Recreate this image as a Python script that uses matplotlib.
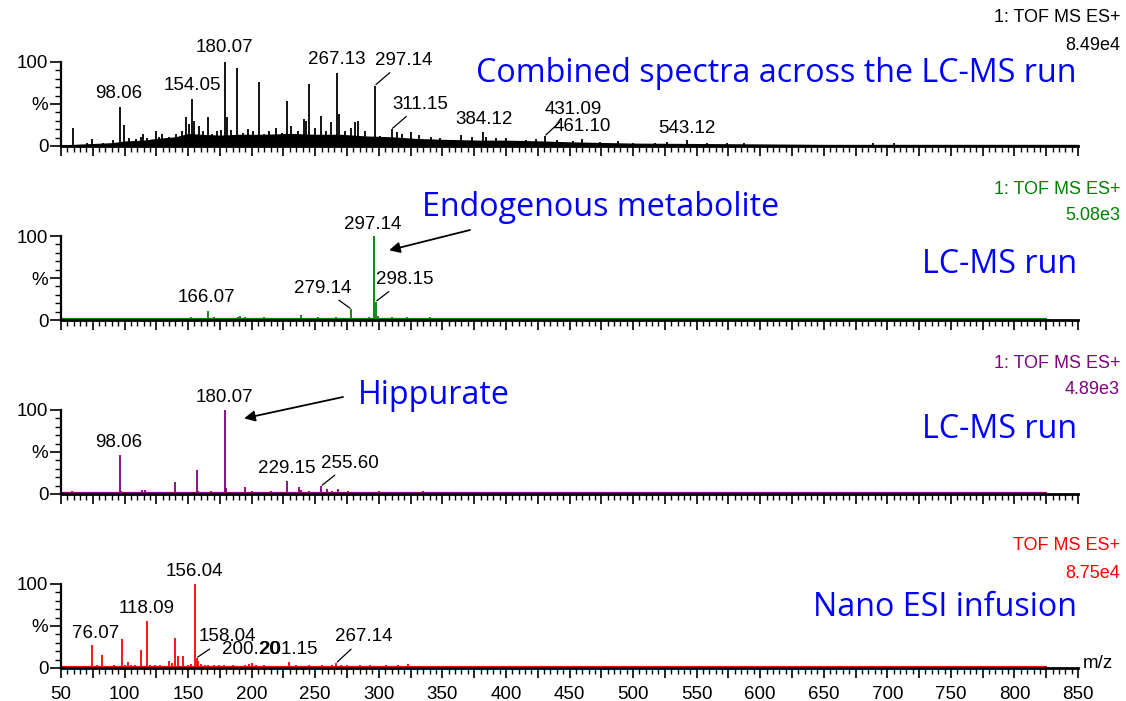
import matplotlib
matplotlib.use("Agg")
import matplotlib.pyplot as plt
from matplotlib.ticker import MultipleLocator, FuncFormatter

# ---------------- data ----------------
# panel 1: combined spectra, black
comb_mz = [59.8, 70.5, 74.7, 83, 91, 96.5, 99.2, 103.6, 108.9, 112.8, 114.6, 118, 124.6, 127,
           129.8, 135, 140.4, 145, 148.3, 150.9, 153, 154.8, 158.8, 162, 165.3, 169, 173, 175.8,
           179, 180.3, 183.8, 188.7, 193.5, 197, 200.9, 206, 210, 214, 219.3, 224, 227.8, 231,
           236.4, 240.8, 242.4, 245, 249.5, 254.8, 258.7, 262.2, 267.4, 268.8, 273.3, 278.5,
           281.2, 283.8, 289, 296.9, 300.9, 310, 314, 318, 325.6, 332, 341, 348, 365, 373, 382,
           384.7, 392.5, 400.4, 416, 424, 430.6, 439.8, 452.9, 459.5, 474, 488.4, 500, 517,
           526.5, 542.7, 558, 573.8, 587, 689, 705]
comb_int = [21, 3, 8, 4, 7, 47, 25, 9, 8, 11, 14, 9, 18, 11,
            14, 11, 14, 18, 34, 26, 56, 30, 24, 18, 34, 14, 18, 19,
            100, 34, 19, 93, 16, 20, 18, 76, 14, 18, 22, 16, 54, 24,
            18, 32, 30, 74, 22, 36, 18, 28, 87, 38, 18, 22,
            28, 30, 18, 72, 12, 20, 17, 14, 17, 13, 11, 9, 13, 11, 17,
            11, 10, 9, 7, 8, 12, 7, 6, 8, 5, 6, 4, 4,
            5, 7, 3, 4, 3, 4, 4]
# dense unresolved "grass" under the combined spectrum
env_mz = [50, 60, 75, 90, 100, 115, 125, 140, 150, 160, 175, 190, 210, 230, 250, 270, 290,
          310, 330, 350, 380, 400, 430, 450, 500, 550, 600, 650, 700, 850]
env_int = [1.5, 2, 3, 4, 6, 7, 9, 11, 15, 14, 13, 14, 14, 15, 14, 14, 12,
           11, 9, 8, 7, 7, 6, 5, 3.5, 3, 2.5, 2, 2, 2]

# panel 2: LC-MS run, green
endo_mz = [59, 66, 75, 82, 92, 100, 112, 125, 140, 152, 165.3, 170, 173, 180, 189, 191, 195,
           200, 210, 222, 230, 239, 245, 252, 260, 266, 272, 278.3, 288, 292, 296.6, 297.6,
           299, 305, 310, 316, 322, 330, 340, 350, 360, 380, 400]
endo_int = [2.5, 1.5, 2, 2, 1.5, 1.5, 2, 1.5, 2, 3, 11, 3, 2.5, 2, 4, 5, 3,
            2, 3, 2.5, 2, 6, 2.5, 3, 2.5, 3, 2, 13, 2, 3, 100, 22,
            5, 2, 3, 2.5, 3, 2, 3, 2, 2, 1.5, 1.5]

# panel 3: LC-MS run, purple
hip_mz = [59, 66, 70, 80, 90, 96.5, 97.5, 105, 114, 116, 125, 130, 139.6, 145, 150, 156.6,
          157.8, 163, 168, 175, 179, 180, 185, 194.7, 200, 205, 210, 215, 220, 227.5, 232,
          237.5, 239, 245, 250, 254.6, 259.6, 263, 267.8, 272, 276, 285, 292, 300, 310, 320,
          335, 350, 365, 380, 400, 420, 450, 500]
hip_int = [3, 2, 2.5, 2, 2, 47, 4, 2, 5, 5, 2, 2, 14, 2, 2.5, 29,
           3, 2, 3.5, 2.5, 100, 7, 2.5, 8, 3, 2, 2.5, 3, 2, 16, 2,
           8, 5, 3, 2.5, 9.5, 6, 3, 6, 2.5, 3, 2, 2, 3, 2, 2.5,
           3, 2, 2.5, 2, 2, 2, 1.5, 1.5]

# panel 4: nano ESI infusion, red
nano_mz = [55, 60, 63, 67, 72, 74.7, 78, 82, 88, 92, 98, 100, 102.8, 105, 108, 112.8, 117.5,
           120, 124, 128, 132, 135, 137, 139.6, 142, 145.6, 150, 152, 155.3, 156.6, 158, 160,
           163, 166, 170, 174, 178, 185, 190, 195, 198, 200, 203, 210, 216, 222, 229.7, 235,
           240, 245, 250, 255, 260, 263, 266.5, 270, 275, 280, 285, 293, 300, 306, 315, 322.6,
           335]
nano_int = [2, 2.5, 2, 1.5, 2, 27, 3, 15, 2, 3, 35, 4, 7, 4, 3, 22, 56,
            4, 3, 3, 2.5, 8, 6, 36, 14, 14, 3, 5, 100, 12, 8, 5,
            3, 4, 3, 3.5, 3, 3, 2.5, 3, 5, 6, 3, 3, 2.5, 2, 7, 3,
            2.5, 4, 2.5, 3, 2.5, 3.5, 6, 3, 4, 2.5, 3.5, 4, 2.5, 4, 3, 5,
            2]

# labelled peaks: (m/z, intensity, text)
comb_labels = [(96.5, 47, "98.06"), (153, 56, "154.05"), (179, 100, "180.07"),
               (267.4, 87, "267.13"), (296.9, 72, "297.14"), (310, 20, "311.15"),
               (382, 17, "384.12"), (430.6, 12, "431.09"), (459.5, 8, "461.10"),
               (542.7, 7, "543.12")]
endo_labels = [(296.6, 100, "297.14"), (297.6, 22, "298.15"), (278.3, 13, "279.14"),
               (165.3, 11, "166.07")]
hip_labels = [(179, 100, "180.07"), (96.5, 47, "98.06"), (227.5, 16, "229.15"),
              (254.6, 9.5, "255.60")]
nano_labels = [(155.3, 100, "156.04"), (117.5, 56, "118.09"), (74.7, 27, "76.07"),
               (156.6, 12, "158.04"), (200, 6, "200.20"), (200, 6, "201.15"),
               (266.5, 6, "267.14")]

headers = [("1: TOF MS ES+", "8.49e4"), ("1: TOF MS ES+", "5.08e3"),
           ("1: TOF MS ES+", "4.89e3"), ("TOF MS ES+", "8.75e4")]
notes = ["Combined spectra across the LC-MS run", "LC-MS run", "LC-MS run", "Nano ESI infusion"]

# ---------------- layout / style ----------------
W, H = 1126, 701
colors = ["black", "#008000", "#800080", "#ff0000"]
panel_base_px = [146, 320, 494, 668]   # y pixel of the 0 line
panel_h_px = 84
ax_left_px, ax_right_px = 61, 1078
header_y_px = [(18, 45), (190, 216), (363, 390), (546, 573)]
note_y_px = [73, 265, 430, 607]

# label offsets in pixels (dx, dy) and whether a leader line is drawn
comb_off = [(-1, 13, 0), (0, 13, 0), (-1, 14, 0), (-1, 13, 0), (29, 25, 1), (29, 25, 1),
            (1, 12, 0), (28, 26, 1), (1, 13, 0), (0, 12, 0)]
endo_off = [(-2, 12, 0), (29, 22, 1), (-29, 21, 1), (-1, 13, 0)]
hip_off = [(-1, 12, 0), (-1, 12, 0), (0, 12, 0), (29, 23, 1)]
nano_off = [(0, 13, 0), (0, 12, 0), (3, 12, 0), (31, 21, 1), (-1, 13, 0), (37, 13, 0),
            (28, 26, 1)]

lab_font = dict(family="Liberation Sans", size=13.5)
note_font = dict(family="Open Sans", size=23.2)

fig = plt.figure(figsize=(W / 100, H / 100), dpi=100)


def fx(px):
    return px / W


def fy(py):
    return 1 - py / H


axes = []
for i, base in enumerate(panel_base_px):
    ax = fig.add_axes([fx(ax_left_px), fy(base), fx(ax_right_px - ax_left_px), panel_h_px / H])
    ax.set_xlim(50, 850)
    ax.set_ylim(0, 100)
    for s in ("top", "right"):
        ax.spines[s].set_visible(False)
    ax.spines["left"].set_linewidth(1.6)
    ax.spines["bottom"].set_linewidth(2.0)
    ax.set_yticks([0, 50, 100])
    ax.set_yticklabels(["0", "%", "100"], **lab_font)
    ax.yaxis.set_minor_locator(MultipleLocator(10))
    ax.xaxis.set_major_locator(MultipleLocator(25))
    ax.xaxis.set_minor_locator(MultipleLocator(5))
    ax.xaxis.set_major_formatter(FuncFormatter(lambda v, p: f"{v:.0f}" if v % 50 == 0 else ""))
    ax.tick_params(axis="y", which="major", length=8, width=1.2, pad=1)
    ax.tick_params(axis="y", which="minor", length=4, width=1.0)
    ax.tick_params(axis="x", which="major", length=7, width=1.2, pad=6)
    ax.tick_params(axis="x", which="minor", length=4, width=1.0)
    if i < 3:
        ax.tick_params(axis="x", labelbottom=False)
    else:
        for t in ax.get_xticklabels():
            t.set_fontfamily("Liberation Sans")
            t.set_fontsize(13.5)
    axes.append(ax)

ax1, ax2, ax3, ax4 = axes

# spectra
ax1.fill_between(env_mz, 0, env_int, color="black", lw=0)
ax1.vlines(comb_mz, 0, comb_int, color="black", lw=1.3)
for ax, mz, inten, c in [(ax2, endo_mz, endo_int, colors[1]), (ax3, hip_mz, hip_int, colors[2]),
                         (ax4, nano_mz, nano_int, colors[3])]:
    ax.plot([50, 826], [1.2, 1.2], color=c, lw=1.6, solid_capstyle="butt")
    ax.vlines(mz, 0, inten, color=c, lw=1.3)

# peak labels
for ax, labs, offs in [(ax1, comb_labels, comb_off), (ax2, endo_labels, endo_off),
                       (ax3, hip_labels, hip_off), (ax4, nano_labels, nano_off)]:
    for (mz, inten, txt), (dx, dy, lead) in zip(labs, offs):
        kw = {}
        if lead:
            kw["arrowprops"] = dict(arrowstyle="-", lw=0.9, color="black", shrinkA=1, shrinkB=1)
        ax.annotate(txt, xy=(mz, inten), xytext=(dx, dy), textcoords="offset pixels",
                    ha="center", va="center", annotation_clip=False, **lab_font, **kw)

# instrument headers
for (h1, h2), (y1, y2), c in zip(headers, header_y_px, colors):
    fig.text(fx(1120), fy(y1), h1, ha="right", va="center", color=c,
             family="Liberation Sans", size=13)
    fig.text(fx(1120), fy(y2), h2, ha="right", va="center", color=c,
             family="Liberation Sans", size=13)

# blue notes
for txt, y in zip(notes, note_y_px):
    fig.text(fx(1077), fy(y), txt, ha="right", va="center", color="#0000ff", **note_font)
fig.text(fx(422), fy(208), "Endogenous metabolite", ha="left", va="center", color="#0000ff",
         **note_font)
fig.text(fx(358), fy(396), "Hippurate", ha="left", va="center", color="#0000ff", **note_font)

# arrows
arrow = dict(arrowstyle="-|>", lw=1.3, color="black", mutation_scale=16, shrinkA=0, shrinkB=0)
ax2.annotate("", xy=(308, 83), xytext=(fx(470), fy(230)), textcoords="figure fraction",
             arrowprops=arrow)
ax3.annotate("", xy=(194, 90), xytext=(fx(343), fy(397)), textcoords="figure fraction",
             arrowprops=arrow)

fig.text(fx(1098), fy(664), "m/z", ha="center", va="center", family="Liberation Sans", size=13.5)

fig.savefig("out.png", dpi=100)
